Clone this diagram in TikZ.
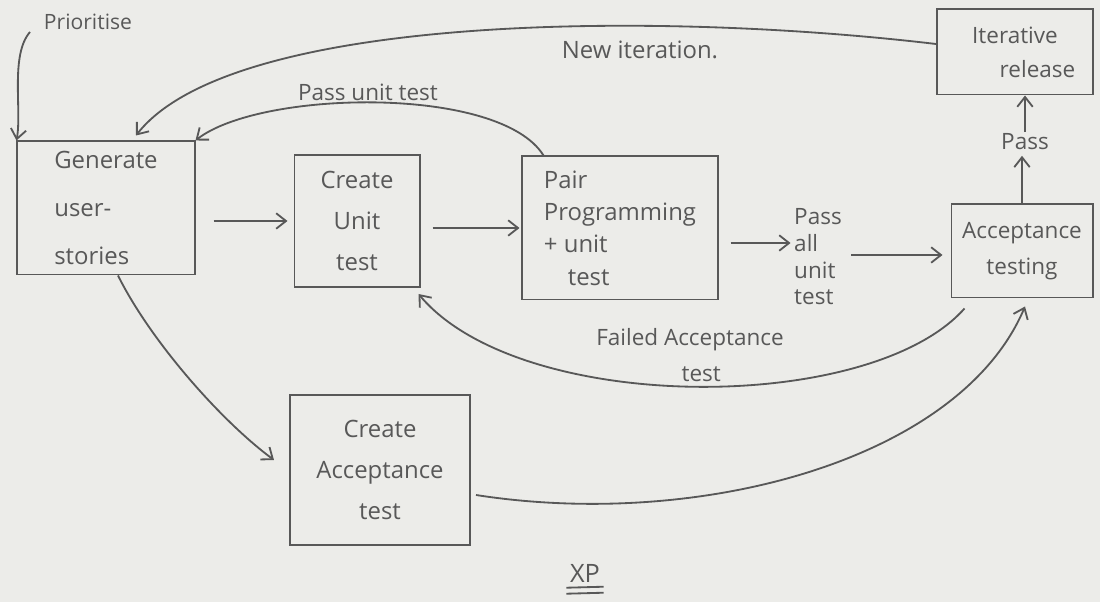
\documentclass[tikz,border=0pt]{standalone}
\usepackage{fontspec}
\setmainfont{Open Sans}
\usetikzlibrary{arrows.meta,calc}
\definecolor{paper}{RGB}{236,236,233}
\definecolor{ink}{RGB}{88,88,88}
\tikzset{
  box/.style={draw=ink, line width=1.4pt, rectangle, text=ink, align=center, inner sep=0pt,
              font=\fontsize{17}{29}\selectfont},
  lbl/.style={text=ink, font=\fontsize{16}{22}\selectfont, align=center, inner sep=1pt},
  conn/.style={draw=ink, line width=1.3pt, -{Straight Barb[length=7pt,width=11pt]}},
  plain/.style={draw=ink, line width=1.3pt},
}
\begin{document}
\begin{tikzpicture}[x=0.025cm,y=-0.025cm]
\fill[paper] (0,0) rectangle (1100,602);
\useasboundingbox (0,0) rectangle (1100,602);

% boxes
\node[box, minimum width=4.425cm, minimum height=3.325cm, align=left,
      font=\fontsize{17}{34}\selectfont] (gen) at (106,208) {Generate\\user-\\stories};
\node[box, minimum width=3.125cm, minimum height=3.3cm] (cut) at (357,221) {Create\\Unit\\test};
\node[box, minimum width=4.875cm, minimum height=3.575cm, align=left,
      font=\fontsize{17}{23}\selectfont] (pp) at (620,228) {Pair\\Programming\\+ unit\\\hspace{1em}test};
\node[box, minimum width=3.525cm, minimum height=2.325cm,
      font=\fontsize{16}{26}\selectfont] (at) at (1022,251) {Acceptance\\testing};
\node[box, minimum width=3.9cm, minimum height=2.125cm,
      font=\fontsize{16}{24}\selectfont] (ir) at (1015,52) {Iterative\\\hspace{2em}release};
\node[box, minimum width=4.5cm, minimum height=3.75cm] (cat) at (380,470) {Create\\Acceptance\\test};

% labels
\node[lbl, align=left, font=\fontsize{16}{19}\selectfont] (passall) at (818,257) {Pass\\all\\unit\\test};
\node[lbl] (pass) at (1025,142) {Pass};
\node[lbl, font=\fontsize{15}{18}\selectfont] (prio) at (88,22) {Prioritise};
\node[lbl, font=\fontsize{17}{20}\selectfont] (newit) at (640,50) {New iteration.};
\node[lbl] (passunit) at (368,92) {Pass unit test};
\node[lbl, font=\fontsize{16}{26}\selectfont] (failed) at (690,355) {Failed Acceptance\\\hspace{1em}test};
\node[lbl, font=\fontsize{18}{20}\selectfont] (xp) at (585,573) {XP};
\draw[plain] ($(xp.south west)+(-2,4)$) -- ($(xp.south east)+(2,3)$);
\draw[plain] ($(xp.south west)+(-2,10)$) -- ($(xp.south east)+(2,9)$);

% straight connectors
\draw[conn, shorten <=0.45cm, shorten >=0.15cm] (gen.east |- cut.west) -- (cut.west);
\draw[conn, shorten <=0.3cm, shorten >=0.05cm] (cut.east |- pp.west) -- (pp.west);
\path (passall.west) ++(0,-14) coordinate (pa1);
\draw[conn, shorten <=0.3cm, shorten >=0.05cm] (pp.east |- pa1) -- (pa1);
\path (passall.east |- at.west) ++(0,4) coordinate (pa2);
\draw[conn, shorten <=0.2cm, shorten >=0.2cm] (pa2) -- (at.west |- pa2);
\draw[conn, shorten >=0.1cm] (at.north) -- (at.north |- pass.south);
\draw[conn] (pass.north) -- (ir.south -| pass.north);

% curved connectors
\coordinate (prstart) at (30,32);
\draw[conn] (prstart) .. controls (10,55) and (22,110) .. (gen.north west);
\draw[conn] ($(ir.west)+(0,-8)$) .. controls (650,10) and (230,15) .. ($(gen.north)+(30,-5)$);
\draw[conn] ($(pp.north west)+(22,0)$) .. controls (500,85) and (260,90) .. (gen.north east);
\draw[conn] ($(at.south west)+(14,10)$) .. controls (870,415) and (520,415) .. ($(cut.south east)+(-2,6)$);
\draw[conn] ($(gen.south)+(12,0)$) .. controls (150,340) and (220,420) .. ($(cat.west)+(-15,-10)$);
\draw[conn] ($(cat.east)+(5,25)$) .. controls (700,530) and (960,460) .. ($(at.south)+(3,8)$);
\end{tikzpicture}
\end{document}
